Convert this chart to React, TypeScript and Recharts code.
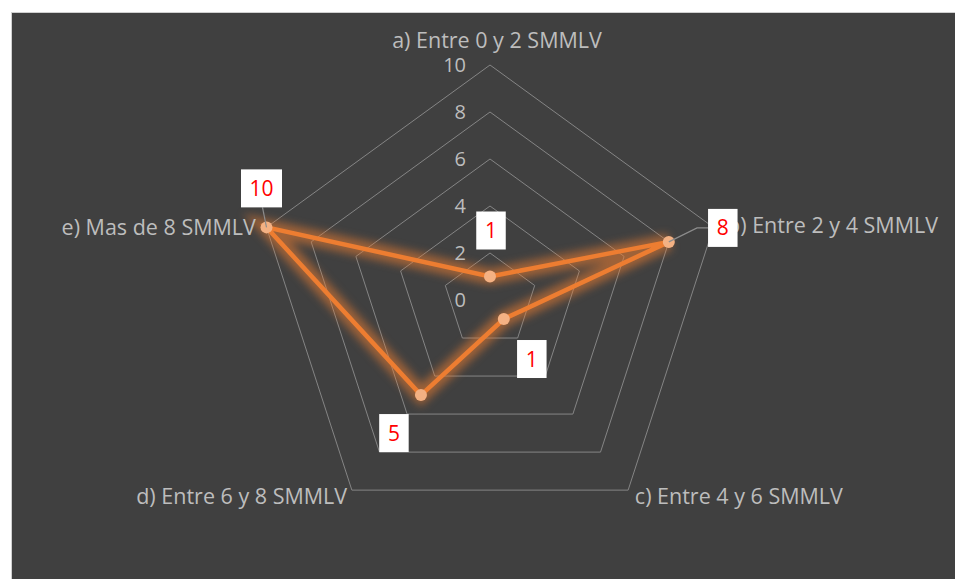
import { RadarChart, Radar, PolarGrid, PolarAngleAxis, PolarRadiusAxis } from 'recharts';

const categories = [
  'a) Entre 0 y 2 SMMLV',
  'b) Entre 2 y 4 SMMLV',
  'c) Entre 4 y 6 SMMLV',
  'd) Entre 6 y 8 SMMLV',
  'e) Mas de 8 SMMLV',
];
const values = [1, 8, 1, 5, 10];
const radiusTicks = [0, 2, 4, 6, 8, 10];

// label box placement relative to its point (Excel moved them by hand)
const labelOffsets = [[1, -46], [54, -14], [28, 40], [-27, 38], [-5, -39]];
const leaderLines = [false, true, false, false, true];
// category text nudge
const tickOffsets = [[7, -17], [6, 1], [2, 0], [0, 0], [-3, 3]];

const data = categories.map((name, i) => ({ name, value: values[i] }));

const FONT = '"Open Sans", Lato, sans-serif';
const TEXT = '#bdbdbd';
const ORANGE = '#ED7D31';

const AngleTick = (props: any) => {
  const { x, y, textAnchor, payload, index } = props;
  const [dx, dy] = tickOffsets[index] || [0, 0];
  return (
    <text x={x + dx} y={y + dy} dy="0.35em" textAnchor={textAnchor} fill={TEXT} fontSize={21.5} fontFamily={FONT}>
      {payload.value}
    </text>
  );
};

const RadiusTick = (props: any) => {
  const { x, y, payload } = props;
  return (
    <text x={x - 24} y={y} dy="0.35em" textAnchor="end" fill={TEXT} fontSize={20} fontFamily={FONT}>
      {payload.value}
    </text>
  );
};

const renderDot = (props: any) => {
  const { cx, cy, index } = props;
  return <circle key={`d-${index}`} cx={cx} cy={cy} r={6} fill="#F4B183" />;
};

const renderLabel = (props: any) => {
  const { cx, cy, index } = props;
  const v = values[index];
  const [ox, oy] = labelOffsets[index];
  const w = String(v).length * 11.5 + 18;
  const h = 38;
  const bx = cx + ox;
  const by = cy + oy;
  let leader = null;
  if (leaderLines[index]) {
    if (ox > 20) {
      const ex = bx - w / 2;
      leader = <polyline points={`${cx},${cy} ${ex - 11},${by} ${ex},${by}`} fill="none" stroke="#8c8c8c" strokeWidth={1.2} />;
    } else {
      leader = <line x1={cx} y1={cy} x2={bx + 1} y2={by + h / 2} stroke="#8c8c8c" strokeWidth={1.2} />;
    }
  }
  return (
    <g key={`l-${index}`}>
      {leader}
      <rect x={bx - w / 2} y={by - h / 2} width={w} height={h} fill="#ffffff" />
      <text x={bx} y={by} dy="0.36em" textAnchor="middle" fill="#ff0000" fontSize={21} fontFamily={FONT}>
        {v}
      </text>
    </g>
  );
};

export default function App() {
  return (
    <div style={{ position: 'fixed', left: 11, top: 12, width: 950, height: 570, border: '1px solid #d0d0d0', background: '#404040' }}>
      <style>{`html, body { overflow: hidden; } .glow-radar .recharts-polygon, .glow-radar path { filter: blur(4px); }`}</style>
      <RadarChart width={950} height={570} data={data} cx={478} cy={287} outerRadius={235} startAngle={90} endAngle={-270}>
        <PolarGrid radialLines={false} stroke="#858585" strokeWidth={1} gridType="polygon" />
        <PolarAngleAxis dataKey="name" tick={AngleTick} tickLine={false} axisLine={false} />
        <PolarRadiusAxis angle={90} domain={[0, 10]} ticks={radiusTicks} tickCount={6} tick={RadiusTick} axisLine={false} tickLine={false} />
        <Radar className="glow-radar" dataKey="value" stroke={ORANGE} strokeOpacity={0.55} strokeWidth={16} fill="none" fillOpacity={0} dot={false} isAnimationActive={false} />
        <Radar dataKey="value" stroke={ORANGE} strokeWidth={4.5} fill="none" fillOpacity={0} dot={renderDot} isAnimationActive={false} />
        <Radar dataKey="value" stroke="none" fill="none" fillOpacity={0} dot={renderLabel} isAnimationActive={false} />
      </RadarChart>
    </div>
  );
}
